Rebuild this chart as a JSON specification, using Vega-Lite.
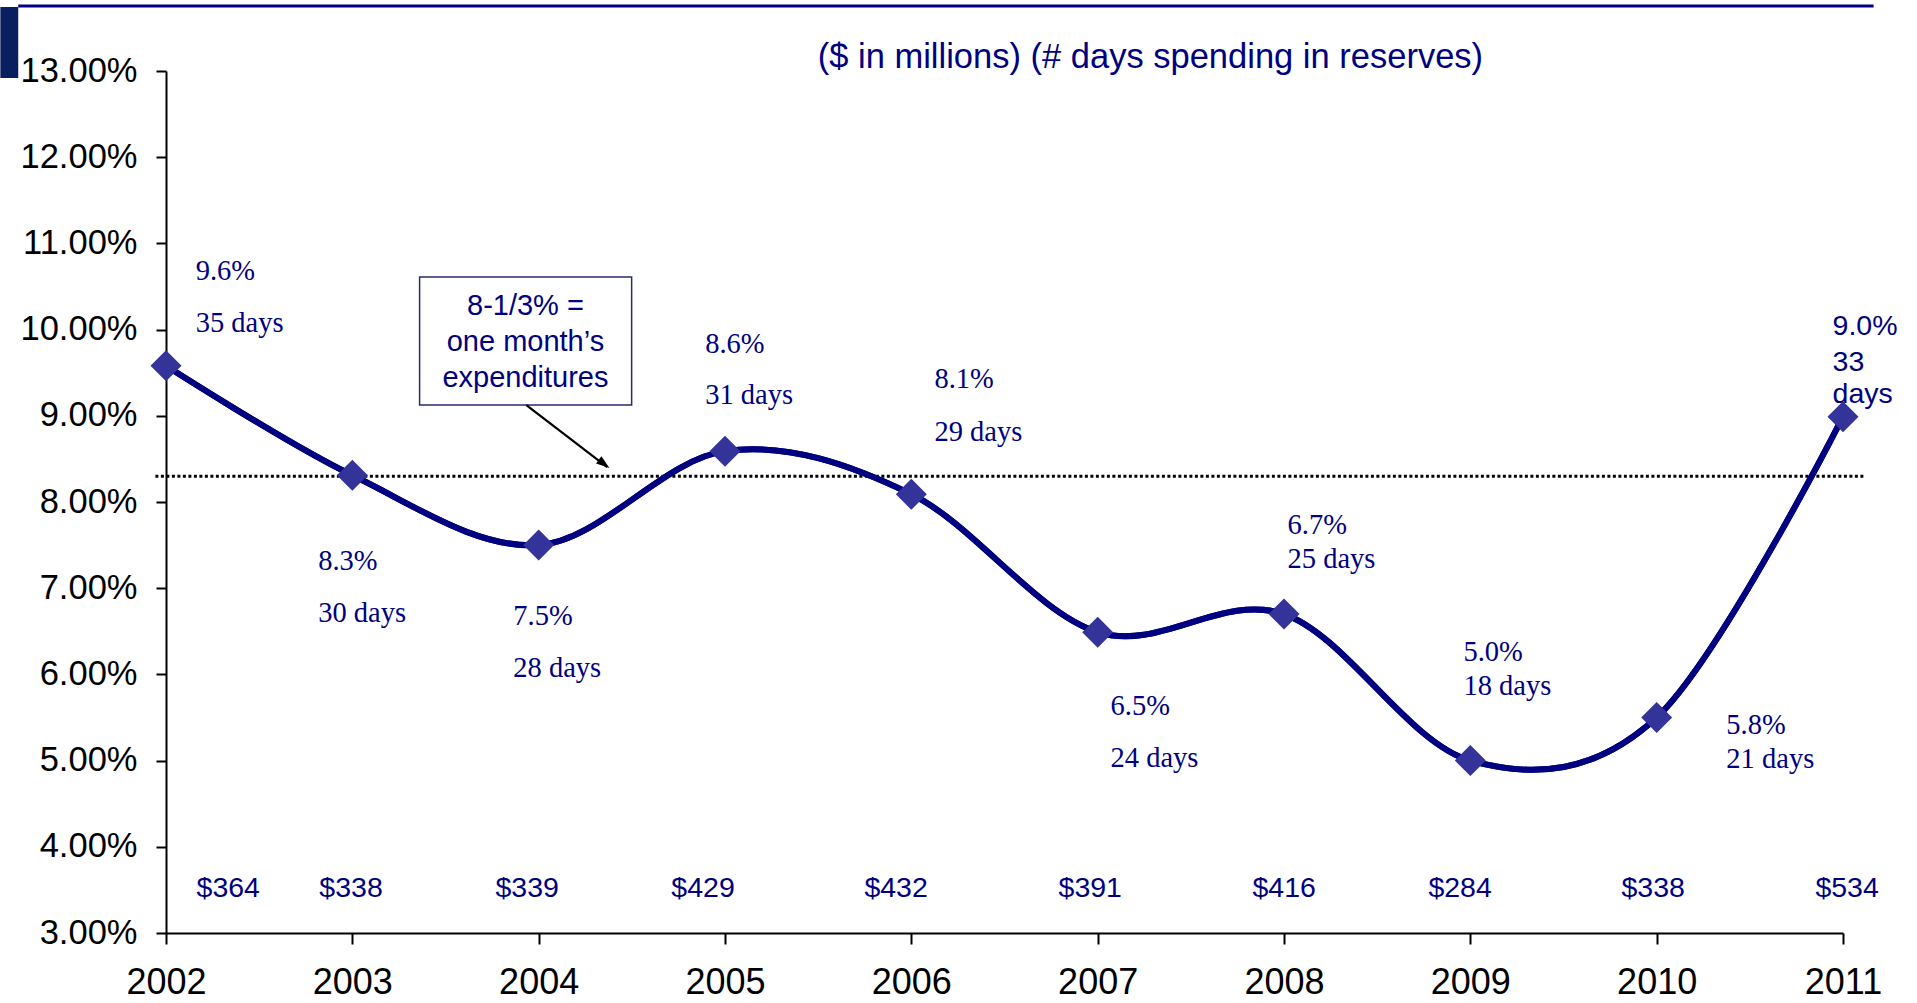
{
  "$schema": "https://vega.github.io/schema/vega-lite/v6.json",
  "width": 1677,
  "height": 862,
  "autosize": {"type": "none"},
  "padding": {"left": 166, "top": 71, "right": 74, "bottom": 70},
  "background": "white",
  "config": {"view": {"stroke": null}, "font": "Liberation Sans"},
  "data": {"values": [{}]},
  "datasets": {
    "reserves": [
      {"year": 2002, "pct": 9.58, "days": 35, "reserve": 364},
      {"year": 2003, "pct": 8.31, "days": 30, "reserve": 338},
      {"year": 2004, "pct": 7.50, "days": 28, "reserve": 339},
      {"year": 2005, "pct": 8.59, "days": 31, "reserve": 429},
      {"year": 2006, "pct": 8.09, "days": 29, "reserve": 432},
      {"year": 2007, "pct": 6.49, "days": 24, "reserve": 391},
      {"year": 2008, "pct": 6.70, "days": 25, "reserve": 416},
      {"year": 2009, "pct": 5.00, "days": 18, "reserve": 284},
      {"year": 2010, "pct": 5.50, "days": 21, "reserve": 338},
      {"year": 2011, "pct": 8.99, "days": 33, "reserve": 534}
    ],
    "labels": [
      {"group": "rate", "year": 2002, "text": "9.6%", "lx": 2002.159, "ly": 10.575},
      {"group": "days", "year": 2002, "text": "35 days", "lx": 2002.159, "ly": 9.972},
      {"group": "rate", "year": 2003, "text": "8.3%", "lx": 2002.817, "ly": 7.211},
      {"group": "days", "year": 2003, "text": "30 days", "lx": 2002.817, "ly": 6.608},
      {"group": "rate", "year": 2004, "text": "7.5%", "lx": 2003.864, "ly": 6.573},
      {"group": "days", "year": 2004, "text": "28 days", "lx": 2003.864, "ly": 5.970},
      {"group": "rate", "year": 2005, "text": "8.6%", "lx": 2004.894, "ly": 9.729},
      {"group": "days", "year": 2005, "text": "31 days", "lx": 2004.894, "ly": 9.137},
      {"group": "rate", "year": 2006, "text": "8.1%", "lx": 2006.124, "ly": 9.323},
      {"group": "days", "year": 2006, "text": "29 days", "lx": 2006.124, "ly": 8.708},
      {"group": "rate", "year": 2007, "text": "6.5%", "lx": 2007.069, "ly": 5.529},
      {"group": "days", "year": 2007, "text": "24 days", "lx": 2007.069, "ly": 4.926},
      {"group": "rate", "year": 2008, "text": "6.7%", "lx": 2008.019, "ly": 7.629},
      {"group": "days", "year": 2008, "text": "25 days", "lx": 2008.019, "ly": 7.234},
      {"group": "rate", "year": 2009, "text": "5.0%", "lx": 2008.963, "ly": 6.155},
      {"group": "days", "year": 2009, "text": "18 days", "lx": 2008.963, "ly": 5.761},
      {"group": "rate", "year": 2010, "text": "5.8%", "lx": 2010.374, "ly": 5.309},
      {"group": "days", "year": 2010, "text": "21 days", "lx": 2010.374, "ly": 4.914},
      {"group": "rate", "year": 2011, "text": "9.0%", "lx": 2010.944, "ly": 9.937},
      {"group": "days", "year": 2011, "text": "33", "lx": 2010.944, "ly": 9.520},
      {"group": "days", "year": 2011, "text": "days", "lx": 2010.944, "ly": 9.149},
      {"group": "reserve", "year": 2002, "text": "$364", "lx": 2002.164, "ly": 3.418},
      {"group": "reserve", "year": 2003, "text": "$338", "lx": 2002.823, "ly": 3.418},
      {"group": "reserve", "year": 2004, "text": "$339", "lx": 2003.768, "ly": 3.418},
      {"group": "reserve", "year": 2005, "text": "$429", "lx": 2004.712, "ly": 3.418},
      {"group": "reserve", "year": 2006, "text": "$432", "lx": 2005.748, "ly": 3.418},
      {"group": "reserve", "year": 2007, "text": "$391", "lx": 2006.790, "ly": 3.418},
      {"group": "reserve", "year": 2008, "text": "$416", "lx": 2007.831, "ly": 3.418},
      {"group": "reserve", "year": 2009, "text": "$284", "lx": 2008.775, "ly": 3.418},
      {"group": "reserve", "year": 2010, "text": "$338", "lx": 2009.811, "ly": 3.418},
      {"group": "reserve", "year": 2011, "text": "$534", "lx": 2010.852, "ly": 3.418}
    ]
  },
  "layer": [
    {
      "data": {"name": "reserves"},
      "mark": {"type": "line", "interpolate": "cardinal", "color": "#000080", "strokeWidth": 6},
      "encoding": {
        "x": {
          "field": "year", "type": "quantitative", "title": null,
          "scale": {"domain": [2002, 2011], "nice": false, "zero": false},
          "axis": {
            "values": [2002, 2003, 2004, 2005, 2006, 2007, 2008, 2009, 2010, 2011],
            "format": "d", "grid": false, "labelFontSize": 36, "labelColor": "black",
            "labelFont": "Liberation Sans", "tickSize": 11, "tickWidth": 2, "tickColor": "black",
            "domainColor": "black", "domainWidth": 2, "labelPadding": 21, "labelFlush": false
          }
        },
        "y": {
          "field": "pct", "type": "quantitative", "title": null,
          "scale": {"domain": [3, 13], "nice": false, "zero": false},
          "axis": {
            "values": [3, 4, 5, 6, 7, 8, 9, 10, 11, 12, 13],
            "labelExpr": "format(datum.value, '.2f') + '%'", "grid": false,
            "labelFontSize": 34.5, "labelColor": "black", "labelFont": "Liberation Sans",
            "tickSize": 10, "tickWidth": 2, "tickColor": "black",
            "domainColor": "black", "domainWidth": 2, "labelPadding": 19
          }
        }
      }
    },
    {
      "mark": {"type": "rect", "color": "#0a1f5f"},
      "encoding": {
        "x": {"datum": 2001.111, "type": "quantitative", "title": null},
        "x2": {"datum": 2001.207},
        "y": {"datum": 13.742, "type": "quantitative", "title": null},
        "y2": {"datum": 12.919}
      }
    },
    {
      "mark": {"type": "rule", "color": "#000080", "strokeWidth": 3},
      "encoding": {
        "x": {"datum": 2001.207, "type": "quantitative", "title": null},
        "x2": {"datum": 2011.164},
        "y": {"datum": 13.754, "type": "quantitative", "title": null}
      }
    },
    {
      "mark": {"type": "rule", "color": "black", "strokeWidth": 3, "strokeDash": [3, 2.5]},
      "encoding": {
        "x": {"datum": 2001.943, "type": "quantitative", "title": null},
        "x2": {"datum": 2011.111},
        "y": {"datum": 8.3, "type": "quantitative", "title": null}
      }
    },
    {
      "data": {"name": "reserves"},
      "mark": {"type": "line", "interpolate": "cardinal", "color": "#000080", "strokeWidth": 6},
      "encoding": {
        "x": {"field": "year", "type": "quantitative", "title": null},
        "y": {"field": "pct", "type": "quantitative", "title": null}
      }
    },
    {
      "data": {"name": "reserves"},
      "mark": {"type": "point", "shape": "diamond", "filled": true, "size": 960, "color": "#333399", "opacity": 1},
      "encoding": {
        "x": {"field": "year", "type": "quantitative", "title": null},
        "y": {"field": "pct", "type": "quantitative", "title": null}
      }
    },
    {
      "mark": {"type": "rect", "fill": "white", "stroke": "#2b2b6b", "strokeWidth": 1.5},
      "encoding": {
        "x": {"datum": 2003.361, "type": "quantitative", "title": null},
        "x2": {"datum": 2004.499},
        "y": {"datum": 10.610, "type": "quantitative", "title": null},
        "y2": {"datum": 9.125}
      }
    },
    {
      "mark": {
        "type": "text", "text": ["8-1/3% =", "one month’s", "expenditures"],
        "font": "Liberation Sans", "fontSize": 29, "color": "#000080",
        "align": "center", "baseline": "alphabetic", "lineHeight": 36
      },
      "encoding": {
        "x": {"datum": 2003.929, "type": "quantitative", "title": null},
        "y": {"datum": 10.169, "type": "quantitative", "title": null}
      }
    },
    {
      "mark": {"type": "rule", "color": "black", "strokeWidth": 2.2},
      "encoding": {
        "x": {"datum": 2003.934, "type": "quantitative", "title": null},
        "x2": {"datum": 2004.368},
        "y": {"datum": 9.125, "type": "quantitative", "title": null},
        "y2": {"datum": 8.404}
      }
    },
    {
      "mark": {"type": "point", "shape": "M0,0L0.5,1.5L-0.5,1.5Z", "filled": true, "size": 324, "color": "black", "opacity": 1, "angle": 127},
      "encoding": {
        "x": {"datum": 2004.380, "type": "quantitative", "title": null},
        "y": {"datum": 8.394, "type": "quantitative", "title": null}
      }
    },
    {
      "mark": {
        "type": "text", "text": "($ in millions) (# days spending in reserves)",
        "font": "Liberation Sans", "fontSize": 34.5, "color": "#000080",
        "align": "center", "baseline": "alphabetic"
      },
      "encoding": {
        "x": {"datum": 2007.283, "type": "quantitative", "title": null},
        "y": {"datum": 13.035, "type": "quantitative", "title": null}
      }
    },
    {
      "data": {"name": "labels"},
      "transform": [{"filter": "datum.group != 'reserve' && datum.year < 2011"}],
      "mark": {"type": "text", "font": "Liberation Serif", "fontSize": 28.5, "color": "#000080", "align": "left", "baseline": "alphabetic"},
      "encoding": {
        "x": {"field": "lx", "type": "quantitative", "title": null},
        "y": {"field": "ly", "type": "quantitative", "title": null},
        "text": {"field": "text"}
      }
    },
    {
      "data": {"name": "labels"},
      "transform": [{"filter": "datum.group == 'reserve' || datum.year == 2011"}],
      "mark": {"type": "text", "font": "Liberation Sans", "fontSize": 28.5, "color": "#000080", "align": "left", "baseline": "alphabetic"},
      "encoding": {
        "x": {"field": "lx", "type": "quantitative", "title": null},
        "y": {"field": "ly", "type": "quantitative", "title": null},
        "text": {"field": "text"}
      }
    }
  ]
}
